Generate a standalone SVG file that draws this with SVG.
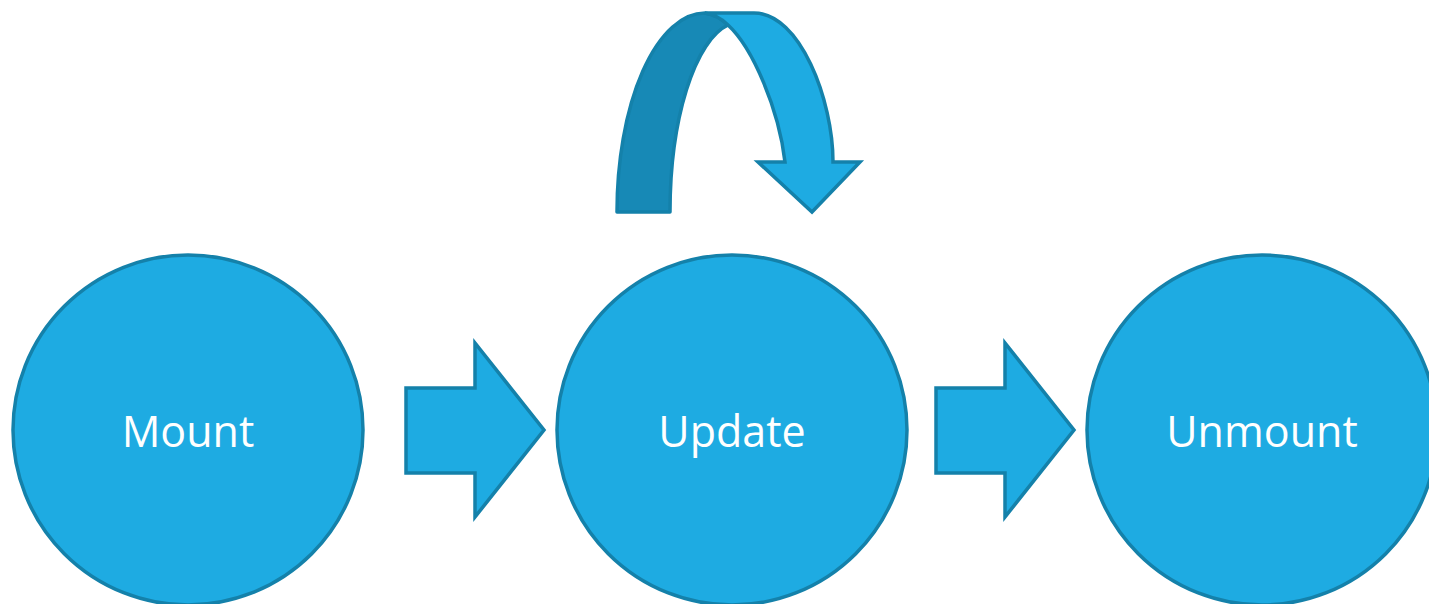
<svg xmlns="http://www.w3.org/2000/svg" width="1429" height="604" viewBox="0 0 1429 604">
<style>
.node{fill:#1eabe2;stroke:#1481aa;stroke-width:3.5}
.arr{fill:#1eabe2;stroke:#1481aa;stroke-width:3.5;stroke-linejoin:miter}
.dark{fill:#1789b6;stroke:#1481aa;stroke-width:3.5;stroke-linejoin:round}
.lbl{font-family:"Open Sans","Noto Sans",sans-serif;font-size:43px;fill:#ffffff;text-anchor:middle}
</style>
<rect width="1429" height="604" fill="#ffffff"/>
<g id="connectors">
<path class="arr" d="M406,388 L475,388 L475,343 L544,430 L475,517 L475,473 L406,473 Z"/>
<path class="arr" d="M936,388 L1005,388 L1005,343 L1074,430 L1005,517 L1005,473 L936,473 Z"/>
<g id="loop">
<path class="dark" d="M617,212 A88,199 0 0 1 705,13 Q718,15 728,25 A70,190 0 0 0 670,212 Z"/>
<path class="arr" d="M705,13 L754,13 C800,13 833,100 833,162 L860,162 L812,212 L758,162 L785,162 C779,110 753,48 728,25 Q718,15 705,13 Z"/>
</g>
</g>
<g id="mount"><circle class="node" cx="188" cy="430" r="175"/><text class="lbl" x="188" y="447">Mount</text></g>
<g id="update"><circle class="node" cx="732" cy="430" r="175"/><text class="lbl" x="732" y="447">Update</text></g>
<g id="unmount"><circle class="node" cx="1262" cy="430" r="175"/><text class="lbl" x="1262" y="447">Unmount</text></g>
</svg>
